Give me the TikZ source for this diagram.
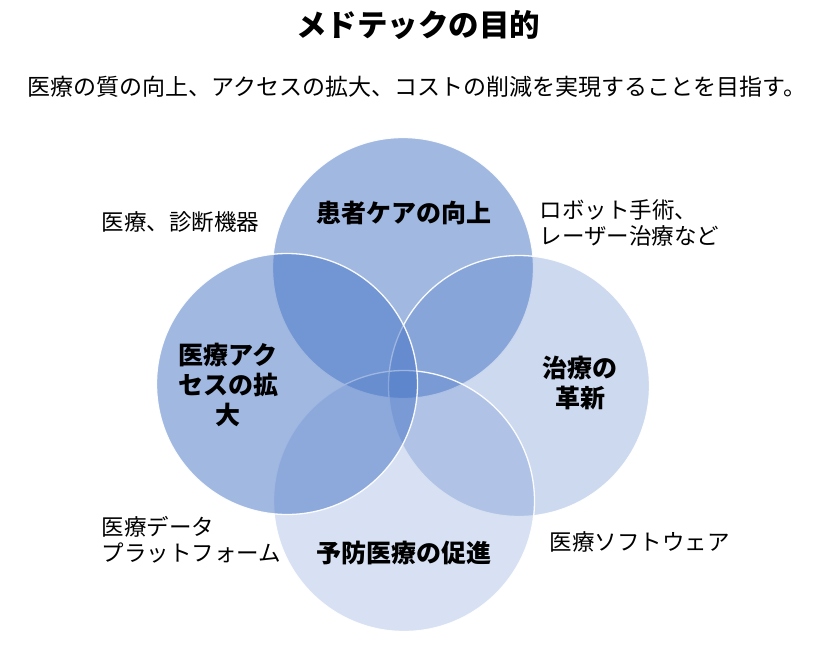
\documentclass[tikz,border=0pt]{standalone}
\usepackage{fontspec}
\setmainfont{Noto Sans CJK JP}
\definecolor{vbase}{RGB}{68,114,196}
\tikzset{
  venn/.style={circle, inner sep=0pt, minimum size=261pt, fill=vbase, draw=white, draw opacity=0.95, line width=1.3pt},
  inlab/.style={font=\fontsize{25}{30}\selectfont\bfseries, align=center, text=black},
  outlab/.style={font=\fontsize{22.5}{26}\selectfont, align=left, text=black, anchor=west},
}
\begin{document}
\begin{tikzpicture}[x=1pt,y=-1pt]
\useasboundingbox (0,0) rectangle (822,651);
% circles
\node[venn, fill opacity=0.5]  (ctop)    at (403,268) {};
\node[venn, fill opacity=0.27] (cright)  at (519,386) {};
\node[venn, fill opacity=0.21] (cbottom) at (404,501) {};
\node[venn, fill opacity=0.5]  (cleft)   at (287,384) {};
% title
\node[font=\fontsize{30.5}{34}\selectfont\bfseries] (title) at (418,25) {メドテックの目的};
\node[font=\fontsize{23}{26}\selectfont] (sub) at (417,87) {医療の質の向上、アクセスの拡大、コストの削減を実現することを目指す。};
% circle labels
\node[inlab] (ltop) at (404,213) {患者ケアの向上};
\node[inlab] (lleft) at (228,385) {医療アク\\セスの拡\\大};
\node[inlab] (lright) at (580,383) {治療の\\革新};
\node[inlab] (lbottom) at (404,553) {予防医療の促進};
% outer labels
\node[outlab] (o1) at (98,222) {医療、診断機器};
\node[outlab] (o2) at (536,223) {ロボット手術、\\レーザー治療など};
\node[outlab] (o3) at (98,540) {医療データ\\プラットフォーム};
\node[outlab] (o4) at (546,542) {医療ソフトウェア};
\end{tikzpicture}
\end{document}
